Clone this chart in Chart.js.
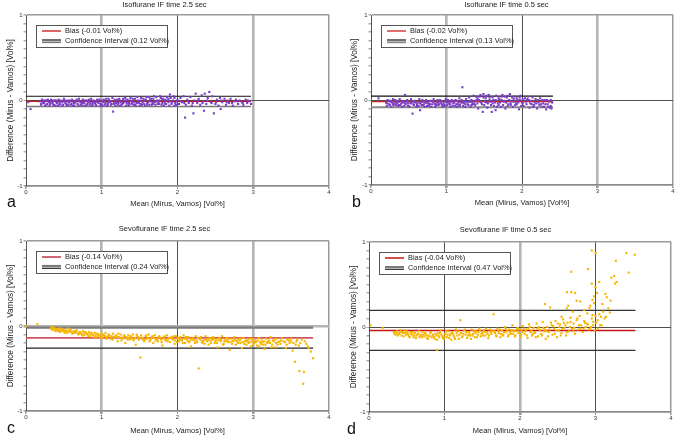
<!DOCTYPE html>
<html>
<head>
<meta charset="utf-8">
<script src="https://cdn.jsdelivr.net/npm/chart.js@4.4.1/dist/chart.umd.min.js"></script>
<style>
html, body { margin: 0; padding: 0; background: #fff; }
body { width: 677px; height: 441px; position: relative; overflow: hidden; font-family: "Liberation Sans", Arial, sans-serif; }
.panel { position: absolute; }
.tag { position: absolute; font-size: 16px; line-height: 16px; color: #111; }
</style>
</head>
<body>
<div class="panel" style="left:0;top:0"><canvas id="pa" width="340" height="220"></canvas></div>
<div class="panel" style="left:340px;top:0"><canvas id="pb" width="337" height="220"></canvas></div>
<div class="panel" style="left:0;top:220px"><canvas id="pc" width="340" height="221"></canvas></div>
<div class="panel" style="left:340px;top:220px"><canvas id="pd" width="337" height="221"></canvas></div>
<div class="tag" style="left:7px;top:194px">a</div>
<div class="tag" style="left:352px;top:194px">b</div>
<div class="tag" style="left:7px;top:420px">c</div>
<div class="tag" style="left:347px;top:421px">d</div>
<script>
// --- DATA ---
const titles = ['Isoflurane IF time 2.5 sec', 'Isoflurane IF time 0.5 sec', 'Sevoflurane IF time 2.5 sec', 'Sevoflurane IF time 0.5 sec'];
const xTitle = 'Mean (Mirus, Vamos) [Vol%]';
const yTitle = 'Difference (Mirus - Vamos) [Vol%]';
const biasValues = [-0.01, -0.02, -0.14, -0.04];
const ciWidths = [0.12, 0.13, 0.24, 0.47];
const upperLimits = [0.05, 0.045, -0.02, 0.195];
const lowerLimits = [-0.07, -0.085, -0.26, -0.275];
const lineEnds = [2.97, 2.41, 3.79, 3.53];
const yLabelValues = [-1, 0, 1];

// Isoflurane, IF time 2.5 sec: [mean, difference]
const isoSlow = [
  [0.03,-0.02],[0.06,-0.1],[0.18,-0.01],[0.2,-0.05],[0.21,0.01],[0.23,-0.03],[0.25,-0.06],[0.26,0.0],[0.28,-0.04],[0.3,-0.02],
  [0.31,-0.06],[0.33,0.01],[0.35,-0.03],[0.37,-0.05],[0.38,0.0],[0.4,-0.02],[0.42,-0.06],[0.43,0.01],[0.45,-0.04],[0.47,-0.01],
  [0.49,-0.05],[0.5,0.02],[0.52,-0.03],[0.54,-0.06],[0.55,0.0],[0.57,-0.02],[0.59,-0.05],[0.61,0.01],[0.63,-0.03],[0.64,-0.06],
  [0.66,0.0],[0.68,-0.04],[0.7,0.02],[0.72,-0.02],[0.73,-0.05],[0.75,0.01],[0.77,-0.03],[0.79,-0.06],[0.8,0.0],[0.82,-0.02],
  [0.84,-0.05],[0.86,0.02],[0.88,-0.03],[0.9,-0.01],[0.92,-0.05],[0.94,0.01],[0.96,-0.03],[0.98,-0.06],[1.0,0.0],[1.02,-0.02],
  [1.04,-0.05],[1.06,0.02],[1.08,-0.03],[1.1,0.0],[1.12,-0.05],[1.14,0.03],[1.16,-0.02],[1.18,-0.06],[1.2,0.01],[1.22,-0.03],
  [1.24,0.0],[1.26,-0.05],[1.28,0.02],[1.3,-0.02],[1.32,-0.06],[1.34,0.01],[1.36,-0.03],[1.38,0.03],[1.4,-0.01],[1.42,-0.05],
  [1.44,0.02],[1.46,-0.03],[1.48,0.0],[1.5,-0.06],[1.52,0.03],[1.54,-0.02],[1.56,-0.04],[1.58,0.01],[1.6,-0.03],[1.62,0.04],
  [1.64,-0.01],[1.66,-0.05],[1.68,0.02],[1.7,-0.02],[1.72,0.04],[1.74,-0.04],[1.76,0.0],[1.78,0.03],[1.8,-0.03],[1.82,-0.06],
  [1.84,0.01],[1.86,0.04],[1.88,-0.02],[1.9,0.07],[1.92,-0.04],[1.94,0.0],[1.96,0.03],[1.98,-0.05],[2.0,0.01],
  [0.22,-0.02],[0.24,0.0],[0.27,-0.05],[0.29,0.01],[0.32,-0.04],[0.34,-0.01],[0.36,0.0],[0.39,-0.06],[0.41,-0.03],[0.44,-0.02],
  [0.46,0.0],[0.48,-0.06],[0.51,-0.01],[0.53,-0.04],[0.56,-0.02],[0.58,0.0],[0.6,-0.04],[0.62,-0.06],[0.65,-0.02],[0.67,0.01],
  [0.69,-0.06],[0.71,-0.01],[0.74,-0.03],[0.76,-0.06],[0.78,0.0],[0.81,-0.04],[0.83,0.01],[0.85,-0.03],[0.87,-0.06],[0.89,0.0],
  [0.91,-0.03],[0.93,-0.06],[0.95,-0.02],[0.97,0.01],[0.99,-0.04],[1.01,-0.06],[1.03,0.01],[1.05,-0.03],[1.07,-0.06],[1.09,0.02],
  [1.11,-0.02],[1.13,-0.04],[1.15,-0.13],[1.17,0.01],[1.19,-0.03],[1.21,-0.05],[1.23,0.02],[1.25,-0.02],[1.27,-0.04],[1.29,0.0],
  [1.31,0.03],[1.33,-0.03],[1.35,-0.05],[1.37,0.0],[1.39,-0.04],[1.41,0.02],[1.43,-0.02],[1.45,-0.06],[1.47,0.04],[1.49,-0.03],
  [1.51,0.0],[1.53,-0.05],[1.55,0.02],[1.57,-0.06],[1.59,0.04],[1.61,-0.02],[1.63,-0.05],[1.65,0.02],[1.67,-0.03],[1.69,0.05],
  [1.71,-0.05],[1.73,0.0],[1.75,-0.02],[1.77,0.05],[1.79,-0.05],[1.81,0.02],[1.83,-0.02],[1.85,-0.04],[1.87,0.0],[1.89,-0.06],
  [1.91,0.03],[1.93,-0.02],[1.95,0.05],[1.97,-0.03],[1.99,-0.01],
  [2.02,-0.04],[2.04,0.03],[2.06,-0.02],[2.08,0.05],[2.1,-0.2],[2.11,-0.05],[2.13,0.01],[2.15,-0.03],[2.17,0.04],[2.19,-0.06],
  [2.21,-0.15],[2.22,0.0],[2.24,0.08],[2.26,-0.03],[2.28,0.02],[2.3,-0.05],[2.32,0.06],[2.34,-0.01],[2.35,-0.12],[2.36,0.08],
  [2.38,-0.04],[2.4,0.03],[2.42,0.1],[2.44,-0.02],[2.46,0.05],[2.48,-0.15],[2.5,-0.04],[2.52,0.01],[2.54,-0.06],[2.56,0.03],
  [2.57,-0.1],[2.59,-0.02],[2.62,0.02],[2.64,-0.05],[2.66,0.0],[2.68,-0.03],[2.7,0.02],[2.73,-0.06],[2.75,-0.01],[2.77,0.01],
  [2.8,-0.04],[2.82,0.0],[2.85,-0.02],[2.87,-0.05],[2.9,0.01],[2.92,-0.03],[2.95,-0.01],[2.97,-0.04],
  [0.2,-0.04],[0.24,-0.03],[0.28,0.0],[0.32,-0.02],[0.36,-0.05],[0.4,0.0],[0.44,-0.05],[0.48,-0.02],[0.52,0.0],[0.56,-0.05],
  [0.6,-0.01],[0.64,-0.03],[0.68,-0.01],[0.72,-0.05],[0.76,-0.02],[0.8,-0.05],[0.84,-0.01],[0.88,-0.05],[0.92,-0.02],[0.96,0.0],
  [1.0,-0.05],[1.04,-0.01],[1.08,-0.05],[1.12,-0.01],[1.16,-0.04],[1.2,-0.02],[1.24,-0.06],[1.28,-0.03],[1.32,0.0],[1.36,-0.06],
  [1.4,-0.03],[1.44,-0.05],[1.48,-0.02],[1.52,-0.04],[1.56,0.0],[1.6,-0.05],[1.64,0.02],[1.68,-0.04],[1.72,-0.01],[1.76,-0.04],
  [1.8,0.01],[1.84,-0.04],[1.88,0.02],[1.92,-0.01],[1.96,-0.06],[2.03,-0.01],[2.09,-0.03],[2.14,-0.01],[2.2,-0.03],[2.27,0.0],
  [2.33,-0.03],[2.39,0.0],[2.45,-0.03],[2.51,-0.02],[2.58,0.0],[2.65,-0.02],[2.72,-0.03],[2.79,-0.01],[2.86,-0.03],[2.93,0.0]
];

// Isoflurane, IF time 0.5 sec
const isoFast = [
  [0.1,0.02],[0.2,-0.03],[0.21,-0.07],[0.22,0.0],[0.24,-0.05],[0.26,-0.02],[0.27,-0.08],[0.29,0.01],[0.31,-0.04],[0.33,-0.06],
  [0.34,-0.01],[0.36,-0.07],[0.38,0.01],[0.4,-0.04],[0.41,-0.08],[0.43,-0.02],[0.45,0.06],[0.46,-0.05],[0.48,0.0],[0.5,-0.07],
  [0.52,-0.03],[0.53,0.01],[0.55,-0.16],[0.56,-0.05],[0.58,-0.01],[0.6,-0.08],[0.62,-0.03],[0.64,0.01],[0.65,-0.12],[0.67,-0.06],
  [0.69,-0.02],[0.71,-0.08],[0.73,0.0],[0.75,-0.04],[0.77,-0.07],[0.79,-0.01],[0.81,-0.05],[0.83,0.01],[0.85,-0.08],[0.87,-0.03],
  [0.89,-0.06],[0.91,0.0],[0.93,-0.04],[0.95,-0.08],[0.97,-0.02],[0.99,0.01],[1.01,-0.06],[1.03,-0.03],[1.05,-0.08],[1.07,0.0],
  [1.09,-0.04],[1.11,-0.07],[1.13,-0.01],[1.15,-0.05],[1.17,0.02],[1.19,-0.03],[1.21,0.15],[1.22,-0.07],[1.24,-0.02],[1.26,0.01],
  [1.28,-0.05],[1.3,0.03],[1.32,-0.08],[1.34,-0.03],[1.36,0.05],[1.38,-0.06],[1.4,0.0],[1.42,-0.1],[1.44,0.04],[1.46,-0.03],
  [1.48,-0.14],[1.49,0.07],[1.5,-0.06],[1.52,0.02],[1.54,-0.09],[1.56,0.06],[1.58,-0.02],[1.6,-0.14],[1.61,0.03],[1.63,-0.07],
  [1.65,-0.12],[1.66,0.05],[1.68,-0.04],[1.7,0.01],[1.72,-0.08],[1.74,0.06],[1.76,-0.02],[1.78,-0.1],[1.8,0.03],[1.82,-0.05],
  [1.84,0.07],[1.86,-0.01],[1.88,-0.08],[1.9,0.04],[1.92,-0.04],[1.94,0.0],[1.96,-0.11],[1.98,0.05],[2.0,-0.03],[2.02,-0.07],
  [2.04,0.02],[2.06,-0.05],[2.08,0.04],[2.1,-0.09],[2.12,-0.01],[2.14,0.03],[2.16,-0.06],[2.18,0.01],[2.2,-0.1],[2.22,-0.03],
  [2.24,0.02],[2.26,-0.08],[2.28,-0.04],[2.3,0.0],[2.32,-0.11],[2.34,-0.05],[2.36,-0.02],[2.38,-0.07],[2.4,-0.03],
  [0.23,-0.01],[0.25,-0.06],[0.28,-0.03],[0.3,-0.06],[0.32,0.0],[0.35,-0.04],[0.37,-0.02],[0.39,-0.06],[0.42,-0.03],[0.44,-0.07],
  [0.47,-0.02],[0.49,-0.04],[0.51,-0.08],[0.54,-0.02],[0.57,-0.06],[0.59,-0.03],[0.61,-0.05],[0.63,-0.07],[0.66,-0.03],[0.68,0.0],
  [0.7,-0.05],[0.72,-0.03],[0.74,-0.07],[0.76,-0.02],[0.78,-0.05],[0.8,-0.08],[0.82,-0.02],[0.84,-0.04],[0.86,-0.06],[0.88,0.0],
  [0.9,-0.05],[0.92,-0.02],[0.94,-0.06],[0.96,-0.04],[0.98,-0.07],[1.0,-0.02],[1.02,0.0],[1.04,-0.05],[1.06,-0.02],[1.08,-0.07],
  [1.1,-0.03],[1.12,0.0],[1.14,-0.08],[1.16,-0.03],[1.18,-0.06],[1.2,0.0],[1.23,-0.04],[1.25,-0.08],[1.27,-0.02],[1.29,-0.06],
  [1.31,-0.02],[1.33,0.0],[1.35,-0.05],[1.37,-0.01],[1.39,0.04],[1.41,-0.04],[1.43,0.0],[1.45,0.06],[1.47,-0.05],[1.51,-0.02],
  [1.53,0.05],[1.55,-0.04],[1.57,0.0],[1.59,-0.06],[1.62,0.0],[1.64,-0.03],[1.67,-0.08],[1.69,0.02],[1.71,-0.03],[1.73,0.0],
  [1.75,-0.06],[1.77,0.04],[1.79,-0.03],[1.81,-0.07],[1.83,0.0],[1.85,-0.04],[1.87,0.03],[1.89,-0.02],[1.91,-0.06],[1.93,0.02],
  [1.95,-0.03],[1.97,0.0],[1.99,-0.07],[2.01,0.01],[2.05,-0.02],[2.09,0.0],[2.13,-0.05],[2.17,-0.03],[2.21,0.0],[2.25,-0.05],
  [2.29,-0.08],[2.33,0.0],[2.37,-0.09],[2.39,-0.1],
  [0.21,-0.04],[0.25,-0.01],[0.29,-0.05],[0.33,-0.03],[0.37,-0.06],[0.41,-0.01],[0.45,-0.04],[0.49,-0.07],[0.53,-0.04],[0.57,-0.02],
  [0.61,-0.07],[0.65,-0.04],[0.69,-0.06],[0.73,-0.03],[0.77,-0.05],[0.81,-0.01],[0.85,-0.05],[0.89,-0.03],[0.93,-0.01],[0.97,-0.06],
  [1.01,-0.03],[1.05,-0.05],[1.09,-0.01],[1.13,-0.05],[1.17,-0.07],[1.21,-0.03],[1.25,-0.05],[1.29,-0.02],[1.33,-0.06],[1.37,-0.04],
  [1.41,0.02],[1.45,-0.02],[1.49,0.03],[1.53,-0.03],[1.57,0.03],[1.61,-0.04],[1.65,0.0],[1.69,-0.06],[1.73,0.04],[1.77,-0.01],
  [1.81,0.05],[1.85,-0.06],[1.89,0.01],[1.93,-0.05],[1.97,0.03],[2.01,-0.04],[2.07,0.01],[2.11,-0.04],[2.15,-0.08],[2.19,-0.04],
  [2.23,-0.06],[2.27,0.0],[2.31,-0.05],[2.35,-0.08],[2.38,0.0]
];

// Sevoflurane, IF time 2.5 sec
const sevoSlow = [
  [0.0,0.0],[0.15,0.02],[0.33,-0.03],[0.35,-0.05],[0.37,-0.02],[0.39,-0.06],[0.41,-0.04],[0.43,-0.03],[0.45,-0.07],[0.47,-0.05],
  [0.49,-0.04],[0.51,-0.08],[0.53,-0.06],[0.55,-0.03],[0.57,-0.07],[0.59,-0.05],[0.61,-0.09],[0.63,-0.06],[0.65,-0.08],[0.67,-0.05],
  [0.69,-0.1],[0.71,-0.07],[0.73,-0.09],[0.75,-0.06],[0.77,-0.11],[0.79,-0.08],[0.81,-0.1],[0.83,-0.07],[0.85,-0.12],[0.87,-0.09],
  [0.89,-0.11],[0.91,-0.08],[0.93,-0.13],[0.95,-0.1],[0.97,-0.12],[0.99,-0.09],[1.01,-0.14],[1.03,-0.11],[1.05,-0.08],[1.07,-0.13],
  [1.09,-0.1],[1.11,-0.15],[1.13,-0.12],[1.15,-0.09],[1.17,-0.14],[1.19,-0.11],[1.21,-0.18],[1.23,-0.13],[1.25,-0.1],[1.27,-0.15],
  [1.29,-0.12],[1.31,-0.2],[1.33,-0.14],[1.35,-0.11],[1.37,-0.16],[1.39,-0.13],[1.41,-0.1],[1.43,-0.15],[1.45,-0.22],[1.47,-0.12],
  [1.49,-0.16],[1.51,-0.37],[1.52,-0.11],[1.54,-0.14],[1.56,-0.18],[1.58,-0.12],[1.6,-0.15],[1.62,-0.1],[1.64,-0.17],[1.66,-0.13],
  [1.68,-0.2],[1.7,-0.11],[1.72,-0.15],[1.74,-0.18],[1.76,-0.12],[1.78,-0.16],[1.8,-0.23],[1.82,-0.13],[1.84,-0.17],[1.86,-0.11],
  [1.88,-0.15],[1.9,-0.19],[1.92,-0.13],[1.94,-0.16],[1.96,-0.21],[1.98,-0.12],[2.0,-0.15],[2.02,-0.18],[2.04,-0.13],[2.06,-0.17],
  [2.08,-0.11],[2.1,-0.2],[2.12,-0.15],[2.14,-0.13],[2.16,-0.18],[2.18,-0.24],[2.2,-0.14],[2.22,-0.17],[2.24,-0.12],[2.26,-0.19],
  [2.28,-0.5],[2.29,-0.15],[2.31,-0.13],[2.33,-0.2],[2.35,-0.16],[2.37,-0.12],[2.39,-0.18],[2.41,-0.22],[2.43,-0.14],[2.45,-0.17],
  [2.47,-0.13],[2.49,-0.2],[2.51,-0.16],[2.53,-0.25],[2.55,-0.14],[2.57,-0.18],[2.59,-0.12],[2.61,-0.21],[2.63,-0.16],[2.65,-0.14],
  [2.67,-0.19],[2.69,-0.28],[2.71,-0.15],[2.73,-0.18],[2.75,-0.13],[2.77,-0.22],[2.79,-0.17],[2.81,-0.15],[2.83,-0.2],[2.85,-0.26],
  [2.87,-0.14],[2.89,-0.18],[2.91,-0.22],[2.93,-0.16],[2.95,-0.19],[2.97,-0.24],[2.99,-0.15],[3.01,-0.2],[3.03,-0.17],[3.05,-0.23],
  [3.07,-0.14],[3.09,-0.19],[3.11,-0.16],[3.13,-0.22],[3.15,-0.27],[3.17,-0.15],[3.19,-0.2],[3.21,-0.17],[3.23,-0.13],[3.25,-0.22],
  [3.27,-0.18],[3.29,-0.25],[3.31,-0.15],[3.33,-0.19],[3.36,-0.21],[3.38,-0.14],[3.4,-0.18],[3.43,-0.26],[3.45,-0.16],[3.48,-0.2],
  [3.5,-0.15],[3.52,-0.29],[3.55,-0.42],[3.57,-0.18],[3.6,-0.23],[3.61,-0.53],[3.64,-0.16],[3.66,-0.68],[3.67,-0.54],[3.7,-0.21],
  [3.73,-0.26],[3.76,-0.3],[3.79,-0.38],
  [0.36,-0.03],[0.4,-0.04],[0.44,-0.05],[0.48,-0.06],[0.52,-0.05],[0.56,-0.06],[0.6,-0.07],[0.64,-0.07],[0.68,-0.08],[0.72,-0.08],
  [0.76,-0.09],[0.8,-0.09],[0.84,-0.1],[0.88,-0.1],[0.92,-0.11],[0.96,-0.11],[1.0,-0.12],[1.04,-0.12],[1.08,-0.12],[1.12,-0.13],
  [1.16,-0.13],[1.2,-0.13],[1.24,-0.14],[1.28,-0.14],[1.32,-0.13],[1.36,-0.14],[1.4,-0.15],[1.44,-0.14],[1.48,-0.13],[1.53,-0.15],
  [1.57,-0.16],[1.61,-0.14],[1.65,-0.15],[1.69,-0.14],[1.73,-0.16],[1.77,-0.14],[1.81,-0.15],[1.85,-0.16],[1.89,-0.14],[1.93,-0.15],
  [1.97,-0.17],[2.01,-0.14],[2.05,-0.16],[2.09,-0.15],[2.13,-0.17],[2.17,-0.15],[2.21,-0.16],[2.25,-0.17],[2.3,-0.16],[2.34,-0.18],
  [2.38,-0.16],[2.42,-0.17],[2.46,-0.16],[2.5,-0.18],[2.54,-0.17],[2.58,-0.16],[2.62,-0.18],[2.66,-0.17],[2.7,-0.19],[2.74,-0.17],
  [2.78,-0.18],[2.82,-0.17],[2.86,-0.19],[2.9,-0.17],[2.94,-0.2],[2.98,-0.18],[3.02,-0.19],[3.06,-0.17],[3.1,-0.21],[3.14,-0.18],
  [3.18,-0.19],[3.22,-0.2],[3.26,-0.17],[3.3,-0.2],[3.35,-0.18],[3.42,-0.19],[3.47,-0.17],[3.53,-0.2],[3.58,-0.16],[3.68,-0.18],
  [0.34,-0.01],[0.38,-0.04],[0.42,-0.06],[0.46,-0.03],[0.5,-0.06],[0.54,-0.08],[0.58,-0.04],[0.62,-0.08],[0.66,-0.06],[0.7,-0.09],
  [0.74,-0.11],[0.78,-0.07],[0.82,-0.12],[0.86,-0.08],[0.9,-0.13],[0.94,-0.09],[0.98,-0.14],[1.02,-0.1],[1.06,-0.15],[1.1,-0.11],
  [1.14,-0.16],[1.18,-0.12],[1.22,-0.09],[1.26,-0.17],[1.3,-0.11],[1.34,-0.16],[1.38,-0.12],[1.42,-0.17],[1.46,-0.1],[1.5,-0.14],
  [1.55,-0.16],[1.59,-0.11],[1.63,-0.18],[1.67,-0.12],[1.71,-0.17],[1.75,-0.13],[1.79,-0.19],[1.83,-0.12],[1.87,-0.18],[1.91,-0.14],
  [1.95,-0.12],[1.99,-0.19],[2.03,-0.16],[2.07,-0.2],[2.11,-0.13],[2.15,-0.19],[2.19,-0.16],[2.23,-0.2],[2.27,-0.14],[2.32,-0.18],
  [2.36,-0.21],[2.4,-0.15],[2.44,-0.2],[2.48,-0.15],[2.52,-0.2],[2.56,-0.16],[2.6,-0.22],[2.64,-0.18],[2.68,-0.15],[2.72,-0.21],
  [2.76,-0.16],[2.8,-0.2],[2.84,-0.15],[2.88,-0.21],[2.92,-0.18],[2.96,-0.15],[3.0,-0.22],[3.04,-0.19],[3.08,-0.24],[3.12,-0.19],
  [3.16,-0.22],[3.2,-0.18],[3.24,-0.25],[3.28,-0.16],[3.32,-0.22],[3.37,-0.17],[3.44,-0.22],[3.5,-0.18],[3.56,-0.22],[3.62,-0.2],
  [3.72,-0.24]
];

// Sevoflurane, IF time 0.5 sec
const sevoFast = [
  [0.02,0.02],[0.18,-0.01],[0.33,-0.06],[0.35,-0.09],[0.37,-0.05],[0.39,-0.08],[0.41,-0.06],[0.43,-0.1],[0.45,-0.07],[0.47,-0.04],
  [0.49,-0.09],[0.51,-0.07],[0.53,-0.11],[0.55,-0.06],[0.57,-0.09],[0.59,-0.12],[0.61,-0.07],[0.63,-0.1],[0.65,-0.08],[0.67,-0.12],
  [0.69,-0.09],[0.71,-0.06],[0.73,-0.11],[0.75,-0.08],[0.77,-0.13],[0.79,-0.1],[0.81,-0.07],[0.83,-0.12],[0.85,-0.09],[0.87,-0.14],
  [0.89,-0.1],[0.9,-0.27],[0.91,-0.07],[0.93,-0.12],[0.95,-0.04],[0.97,-0.11],[0.99,-0.14],[1.01,-0.08],[1.03,-0.12],[1.05,-0.05],
  [1.07,-0.1],[1.09,-0.15],[1.11,-0.08],[1.13,-0.12],[1.15,-0.03],[1.17,-0.1],[1.19,-0.14],[1.21,0.08],[1.22,-0.07],[1.24,-0.11],
  [1.26,-0.04],[1.28,-0.09],[1.3,-0.13],[1.32,-0.06],[1.34,-0.1],[1.36,-0.03],[1.38,-0.08],[1.4,-0.12],[1.42,-0.05],[1.44,-0.09],
  [1.46,-0.02],[1.48,-0.11],[1.5,-0.07],[1.52,-0.04],[1.54,-0.1],[1.56,-0.06],[1.58,-0.13],[1.6,-0.03],[1.62,-0.08],[1.65,0.15],
  [1.66,-0.05],[1.68,-0.1],[1.7,-0.02],[1.72,-0.07],[1.74,-0.12],[1.76,-0.04],[1.78,-0.09],[1.8,0.0],[1.82,-0.06],[1.84,-0.11],
  [1.86,-0.03],[1.88,-0.08],[1.9,0.02],[1.92,-0.05],[1.94,-0.1],[1.96,-0.02],[1.98,-0.07],[2.0,-0.12],[2.02,-0.04],[2.04,0.01],
  [2.06,-0.08],[2.08,-0.03],[2.1,-0.13],[2.12,0.03],[2.14,-0.06],[2.16,-0.1],[2.18,-0.01],[2.2,-0.07],[2.22,0.04],[2.24,-0.11],
  [2.26,-0.03],[2.28,-0.08],[2.3,0.06],[2.32,-0.05],[2.33,0.27],[2.34,-0.14],[2.36,0.0],[2.38,-0.06],[2.4,0.23],[2.41,0.05],
  [2.43,-0.09],[2.45,-0.02],[2.47,0.07],[2.49,-0.12],[2.51,-0.04],[2.53,0.03],[2.55,-0.07],[2.57,0.09],[2.59,-0.01],[2.61,-0.1],
  [2.62,0.22],[2.62,0.41],[2.63,0.05],[2.64,0.25],[2.65,-0.05],[2.67,0.11],[2.68,0.65],[2.68,0.41],[2.69,-0.02],[2.71,0.04],
  [2.73,0.4],[2.73,-0.08],[2.75,0.31],[2.75,0.08],[2.77,-0.03],[2.79,0.13],[2.8,0.3],[2.81,0.02],[2.83,-0.06],[2.85,0.07],
  [2.87,0.0],[2.89,0.16],[2.9,0.68],[2.9,0.03],[2.92,0.22],[2.93,0.25],[2.94,0.0],[2.95,0.9],[2.95,0.51],[2.95,0.1],
  [2.96,0.32],[2.97,0.06],[2.98,0.36],[2.98,0.28],[2.99,-0.04],[3.0,0.87],[3.0,0.47],[3.0,0.13],[3.01,0.05],[3.02,0.4],
  [3.03,-0.02],[3.05,0.53],[3.05,0.15],[3.07,0.12],[3.08,0.02],[3.1,0.18],[3.12,0.1],[3.13,0.39],[3.15,0.35],[3.17,0.22],
  [3.19,0.17],[3.2,0.31],[3.21,0.58],[3.25,0.6],[3.26,0.51],[3.28,0.53],[3.27,0.78],[3.41,0.87],[3.44,0.64],[3.52,0.85],
  [2.85,0.2],[2.7,0.18],[2.55,0.12],
  [0.36,-0.07],[0.4,-0.08],[0.44,-0.06],[0.48,-0.07],[0.52,-0.09],[0.56,-0.08],[0.6,-0.1],[0.64,-0.09],[0.68,-0.1],[0.72,-0.09],
  [0.76,-0.1],[0.8,-0.11],[0.84,-0.1],[0.88,-0.08],[0.92,-0.1],[0.96,-0.09],[1.0,-0.11],[1.04,-0.09],[1.08,-0.08],[1.12,-0.1],
  [1.16,-0.07],[1.2,-0.09],[1.25,-0.08],[1.29,-0.06],[1.33,-0.08],[1.37,-0.1],[1.41,-0.07],[1.45,-0.06],[1.49,-0.08],[1.53,-0.06],
  [1.57,-0.08],[1.61,-0.06],[1.67,-0.07],[1.71,-0.05],[1.75,-0.08],[1.79,-0.06],[1.83,-0.04],[1.87,-0.06],[1.91,-0.08],[1.95,-0.05],
  [1.99,-0.03],[2.03,-0.06],[2.07,-0.05],[2.11,-0.02],[2.15,-0.04],[2.19,-0.06],[2.23,-0.02],[2.27,-0.04],[2.31,-0.01],[2.35,-0.05],
  [2.39,-0.03],[2.44,0.01],[2.48,-0.04],[2.52,0.0],[2.56,-0.02],[2.6,0.02],[2.66,0.0],[2.72,-0.01],[2.78,0.02],[2.84,-0.02],
  [2.88,0.04],[2.93,-0.02],[2.97,0.02],
  [0.34,-0.08],[0.38,-0.1],[0.42,-0.04],[0.46,-0.11],[0.5,-0.05],[0.54,-0.12],[0.58,-0.06],[0.62,-0.13],[0.66,-0.05],[0.7,-0.12],
  [0.74,-0.07],[0.78,-0.14],[0.82,-0.06],[0.86,-0.12],[0.9,-0.15],[0.94,-0.07],[0.98,-0.13],[1.02,-0.05],[1.06,-0.13],[1.1,-0.06],
  [1.14,-0.14],[1.18,-0.05],[1.23,-0.12],[1.27,-0.03],[1.31,-0.1],[1.35,-0.14],[1.39,-0.05],[1.43,-0.12],[1.47,-0.04],[1.51,-0.1],
  [1.55,-0.02],[1.59,-0.1],[1.63,-0.05],[1.69,-0.11],[1.73,-0.03],[1.77,-0.1],[1.81,-0.02],[1.85,-0.09],[1.89,-0.04],[1.93,-0.11],
  [1.97,-0.01],[2.01,-0.09],[2.05,-0.02],[2.09,-0.1],[2.13,0.0],[2.17,-0.08],[2.21,-0.12],[2.25,0.0],[2.29,-0.1],[2.33,-0.03],
  [2.37,-0.11],[2.42,0.02],[2.46,-0.08],[2.5,0.04],[2.54,-0.1],[2.58,0.05],[2.62,-0.06],[2.67,0.06],[2.71,-0.05],[2.76,0.1],
  [2.8,-0.02],[2.86,0.05],[2.91,-0.03],[2.96,0.14],[3.03,0.08],[3.06,0.02],[3.09,0.27],[3.14,0.12]
];

const pointSets = [isoSlow, isoFast, sevoSlow, sevoFast];

// --- STYLES ---
const FONT = '"Liberation Sans", Arial, sans-serif';
const LIGHT = { c: '#b5b5b5', w: 2.6 };
const DARK = { c: '#505050', w: 1 };
const EDGE = { c: '#9a9a9a', w: 1.5 };
const PURPLE = '#7a3ec6';
const AMBER = '#f7b500';

const panels = [
  { id: 'pa', W: 340, H: 220, area: { left: 26, top: 15, right: 329, bottom: 186 }, titlePad: 0.5, yPad: 6.5, xPad: 11.5,
    color: PURPLE, vgrid: [LIGHT, DARK, LIGHT], zero: DARK,
    bias: { c: '#c81414', w: 1.3 }, upper: { c: '#111', w: 1.2 }, lower: { c: '#777', w: 1.6 } },
  { id: 'pb', W: 337, H: 220, area: { left: 31, top: 15, right: 333, bottom: 185 }, titlePad: 0.5, yPad: 10.5, xPad: 12.5,
    color: PURPLE, vgrid: [LIGHT, DARK, LIGHT], zero: DARK,
    bias: { c: '#d42020', w: 1.3 }, upper: { c: '#111', w: 1.2 }, lower: { c: '#888', w: 1.8 } },
  { id: 'pc', W: 340, H: 221, area: { left: 26, top: 21, right: 329, bottom: 191 }, titlePad: 4.5, yPad: 6.5, xPad: 6,
    color: AMBER, vgrid: [LIGHT, DARK, LIGHT], zero: LIGHT,
    bias: { c: '#cc5566', w: 1.8 }, upper: { c: '#7a7a7a', w: 2.2 }, lower: { c: '#222', w: 1.2 } },
  { id: 'pd', W: 337, H: 221, area: { left: 29, top: 22, right: 331, bottom: 192 }, titlePad: 5.5, yPad: 8.8, xPad: 5.5,
    color: AMBER, vgrid: [DARK, LIGHT, DARK], zero: DARK,
    bias: { c: '#c81414', w: 1.5 }, upper: { c: '#333', w: 1.3 }, lower: { c: '#333', w: 1.3 } }
];

const boxLegend = {
  id: 'boxLegend',
  afterDatasetsDraw(chart, args, opts) {
    const { ctx, chartArea } = chart;
    const p = opts.panel;
    const x = chartArea.left + 10, y = chartArea.top + 10;
    ctx.save();
    ctx.fillStyle = '#fff';
    ctx.fillRect(x, y, 131, 22);
    ctx.strokeStyle = '#555';
    ctx.lineWidth = 1;
    ctx.strokeRect(Math.round(x) + 0.5, Math.round(y) + 0.5, 131, 22);
    const seg = (yy, st) => {
      ctx.beginPath();
      ctx.strokeStyle = st.c;
      ctx.lineWidth = st.w;
      ctx.moveTo(x + 6, yy);
      ctx.lineTo(x + 25, yy);
      ctx.stroke();
    };
    seg(y + 6, p.bias);
    seg(y + 15, p.upper);
    seg(y + 17.3, p.lower);
    ctx.fillStyle = '#222';
    ctx.font = '7.4px ' + FONT;
    ctx.textBaseline = 'middle';
    ctx.fillText(chart.data.datasets[1].label, x + 29, y + 6);
    ctx.fillText(chart.data.datasets[2].label, x + 29, y + 16);
    ctx.restore();
  }
};

function isWhole(v) { return yLabelValues.some(l => Math.abs(v - l) < 1e-6); }

panels.forEach((p, i) => {
  const a = p.area;
  const flat = (val, st, label) => ({
    label: label,
    data: [{ x: 0, y: val }, { x: lineEnds[i], y: val }],
    showLine: true, pointRadius: 0, borderColor: st.c, borderWidth: st.w, fill: false
  });
  new Chart(document.getElementById(p.id), {
    type: 'scatter',
    data: {
      datasets: [
        { label: 'data', data: pointSets[i].map(d => ({ x: d[0], y: d[1] })),
          pointStyle: 'rect', pointRadius: 1.5, borderWidth: 0, backgroundColor: p.color },
        flat(biasValues[i], p.bias, `Bias (${biasValues[i].toFixed(2)} Vol%)`),
        flat(upperLimits[i], p.upper, `Confidence Interval (${ciWidths[i].toFixed(2)} Vol%)`),
        flat(lowerLimits[i], p.lower, 'lower')
      ]
    },
    options: {
      responsive: false,
      animation: false,
      layout: { padding: { left: 0, top: 0, right: p.W - a.right, bottom: 0 } },
      plugins: {
        legend: { display: false },
        tooltip: { enabled: false },
        title: { display: true, text: titles[i], color: '#222',
          font: { family: FONT, size: 7.5, weight: 'normal', lineHeight: 1.2 },
          padding: { top: p.titlePad, bottom: a.top - 9 - p.titlePad } },
        boxLegend: { panel: p }
      },
      scales: {
        x: {
          type: 'linear', min: 0, max: 4,
          afterFit: s => { s.height = p.H - a.bottom; },
          ticks: { stepSize: 1, color: '#333', font: { family: FONT, size: 6 }, padding: 0, maxRotation: 0 },
          grid: {
            tickLength: 3, tickColor: '#999',
            color: c => c.tick && c.tick.value >= 1 && c.tick.value <= 3 ? p.vgrid[c.tick.value - 1].c : (c.tick && c.tick.value === 4 ? EDGE.c : 'rgba(0,0,0,0)'),
            lineWidth: c => c.tick && c.tick.value >= 1 && c.tick.value <= 3 ? p.vgrid[c.tick.value - 1].w : EDGE.w
          },
          border: { display: true, color: '#8a8a8a', width: 1.5 },
          title: { display: true, text: xTitle, color: '#222', font: { family: FONT, size: 7.5 }, padding: { top: 0, bottom: p.xPad } }
        },
        y: {
          type: 'linear', min: -1, max: 1,
          afterFit: s => { s.width = a.left; },
          ticks: { stepSize: 0.1, autoSkip: false, color: '#333', font: { family: FONT, size: 6 }, padding: 1,
            callback: v => isWhole(v) ? String(Math.round(v)) : '' },
          grid: {
            tickLength: 2.5, tickColor: '#aaa',
            color: c => {
              const v = c.tick ? c.tick.value : NaN;
              if (Math.abs(v) < 1e-6) return p.zero.c;
              if (Math.abs(v - 1) < 1e-6 || Math.abs(v + 1) < 1e-6) return EDGE.c;
              return 'rgba(0,0,0,0)';
            },
            lineWidth: c => {
              const v = c.tick ? c.tick.value : NaN;
              if (Math.abs(v) < 1e-6) return p.zero.w;
              return EDGE.w;
            }
          },
          border: { display: true, color: '#555', width: 1 },
          title: { display: true, text: yTitle, color: '#222', font: { family: FONT, size: 8.2 }, padding: { top: p.yPad - 0.4, bottom: 0 } }
        }
      }
    },
    plugins: [boxLegend]
  });
});
</script>
</body>
</html>
